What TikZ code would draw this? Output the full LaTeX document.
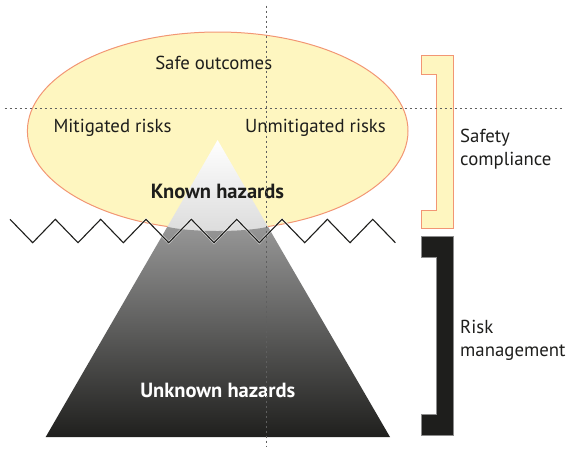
\documentclass[tikz,border=0pt]{standalone}
\usepackage{fontspec}
\setmainfont{PT Sans}
\usetikzlibrary{positioning}
\definecolor{hzyellow}{RGB}{254,246,192}
\definecolor{hzsalmon}{RGB}{242,150,116}
\definecolor{hzdark}{RGB}{30,30,28}
\definecolor{hzdash}{RGB}{95,95,95}

\begin{document}
\begin{tikzpicture}[x=1pt, y=-1pt,
  every node/.style={font=\fontsize{18.8}{22}\selectfont, text=hzdark, inner sep=0pt},
  area/.style={anchor=base},
  hazard/.style={anchor=base, font=\fontsize{20.5}{24}\selectfont\bfseries},
  side/.style={anchor=base west},
  guide/.style={draw=hzdash, line width=0.9pt, dash pattern=on 2.5pt off 2.5pt},
  yellowbox/.style={fill=hzyellow, draw=hzsalmon, line width=1pt},
  darkbox/.style={fill=hzdark, draw=black!45, line width=0.6pt}
]
  \useasboundingbox (0,0) rectangle (588,453);
  \def\brL{421.7}\def\brM{436.7}\def\brR{453.3}

  % safe area
  \filldraw[yellowbox] (217.7,131) ellipse [x radius=190.3, y radius=99];

  % iceberg
  \begin{scope}
    \clip (217.6,140) -- (390,437) -- (45.7,437) -- cycle;
    \shade[top color=white, bottom color=black!14] (40,140) rectangle (400,234);
    \shade[top color=black!40, bottom color=hzdark]
      (40,222) -- (166,226.5) .. controls (190,232.5) and (245,232.5) .. (269,226.5)
      -- (400,222) -- (400,440) -- (40,440) -- cycle;
  \end{scope}

  % waterline
  \draw[white, opacity=0.6, line width=2.4pt]
    (10,219.3) \foreach \i in {1,...,8} { -- ++(22.67,23.4) -- ++(22.67,-23.4) } -- ++(22.67,23.4);
  \draw[hzdark, line width=1.1pt]
    (10,219.3) \foreach \i in {1,...,8} { -- ++(22.67,23.4) -- ++(22.67,-23.4) } -- ++(22.67,23.4);

  % brackets
  \filldraw[yellowbox] (\brL,55.7) -- (\brR,55.7) -- (\brR,228.3) -- (\brL,228.3) -- (\brL,210)
    -- (\brM,210) -- (\brM,74) -- (\brL,74) -- cycle;
  \filldraw[darkbox] (\brL,236.7) -- (\brR,236.7) -- (\brR,435.7) -- (\brL,435.7) -- (\brL,414.3)
    -- (\brM,414.3) -- (\brM,257.7) -- (\brL,257.7) -- cycle;

  % labels
  \node[area] (safe) at (213.7,69.3) {Safe outcomes};
  \node[area] (mitigated) at (112.5,132.7) {Mitigated risks};
  \node[area] (unmitigated) at (315.5,132.7) {Unmitigated risks};
  \node[hazard] (known) at (217.5,198.3) {Known hazards};
  \node[hazard, text=white] (unknown) at (217.8,397.3) {Unknown hazards};
  \node[side] (safety) at (460,142.3) {Safety};
  \node[side] (compliance) at (460,165) {compliance};
  \node[side] (risk) at (460,333.3) {Risk};
  \node[side] (management) at (460,356) {management};

  % guides
  \draw[guide] (4.5,108) -- (562,108);
  \draw[guide] (266,5.7) -- (266,447);
\end{tikzpicture}
\end{document}
